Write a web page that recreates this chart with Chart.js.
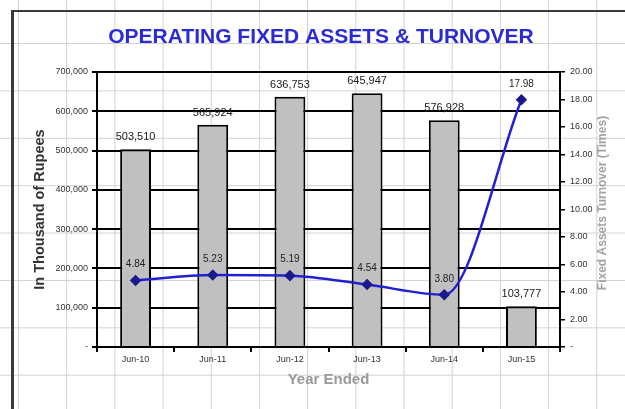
<!DOCTYPE html>
<html>
<head>
<meta charset="utf-8">
<script src="https://cdn.jsdelivr.net/npm/chart.js@4/dist/chart.umd.min.js"></script>
<style>
    html, body {
        margin: 0;
        padding: 0;
    }
    body {
        width: 625px;
        height: 409px;
        position: relative;
        overflow: hidden;
        background-color: #fff;
        /* spreadsheet cell lines behind the chart */
        background-image:
            linear-gradient(to right, #d2d2d2 1px, transparent 1px),
            linear-gradient(to bottom, #d2d2d2 1px, transparent 1px);
        background-size: 48.2px 47.4px;
        background-position: 18px 43px;
    }
    #frame {
        position: absolute;
        left: 11px;
        top: 10px;
        width: 700px;
        height: 500px;
        border-left: 3px solid #3a3a3a;
        border-top: 2px solid #3a3a3a;
    }
    #c {
        position: absolute;
        left: 0;
        top: 0;
    }
</style>
</head>
<body>
<div id="frame"></div>
<canvas id="c" width="625" height="409"></canvas>
<script>
// Chart data
const categories = ['Jun-10', 'Jun-11', 'Jun-12', 'Jun-13', 'Jun-14', 'Jun-15'];
const fixedAssets = [503510, 565924, 636753, 645947, 576928, 103777];
const turnover = [4.84, 5.23, 5.19, 4.54, 3.80, 17.98];

const chartTitle = 'OPERATING FIXED ASSETS & TURNOVER';
const leftAxisTitle = 'In Thousand of Rupees';
const rightAxisTitle = 'Fixed Assets Turnover (Times)';
const xAxisTitle = 'Year Ended';

const FONT = '"Liberation Sans", Arial, sans-serif';

// Value labels above bars and line points
const valueLabels = {
    id: 'valueLabels',
    afterDatasetsDraw(chart) {
        const ctx = chart.ctx;
        ctx.save();
        ctx.textAlign = 'center';
        ctx.textBaseline = 'middle';
        ctx.fillStyle = '#222';

        ctx.font = '11px ' + FONT;
        chart.getDatasetMeta(0).data.forEach((bar, i) => {
            ctx.fillText(fixedAssets[i].toLocaleString('en-US'), bar.x, bar.y - 12);
        });

        ctx.font = '10px ' + FONT;
        chart.getDatasetMeta(1).data.forEach((pt, i) => {
            ctx.fillText(turnover[i].toFixed(2), pt.x, pt.y - 16);
        });
        ctx.restore();
    }
};

// Main title and right axis title (reads bottom to top like the left one)
const extraTitles = {
    id: 'extraTitles',
    afterDraw(chart) {
        const ctx = chart.ctx;
        ctx.save();
        ctx.textAlign = 'center';
        ctx.textBaseline = 'middle';

        ctx.fillStyle = '#2b2bd4';
        ctx.font = 'bold 21px ' + FONT;
        ctx.fillText(chartTitle, 321, 37);

        ctx.translate(603, 203);
        ctx.rotate(-Math.PI / 2);
        ctx.fillStyle = '#a3a3a3';
        ctx.font = 'bold 12px ' + FONT;
        ctx.fillText(rightAxisTitle, 0, 0);
        ctx.restore();
    }
};

const ctx = document.getElementById('c');

new Chart(ctx, {
    data: {
        labels: categories,
        datasets: [{
            type: 'bar',
            label: 'Operating Fixed Assets',
            data: fixedAssets,
            yAxisID: 'y',
            backgroundColor: '#c0c0c0',
            borderColor: '#000',
            borderWidth: 2,
            barPercentage: 0.4,
            categoryPercentage: 1,
            order: 1
        }, {
            type: 'line',
            label: 'Turnover',
            data: turnover,
            yAxisID: 'y1',
            borderColor: '#2020d0',
            borderWidth: 2.5,
            cubicInterpolationMode: 'monotone',
            pointStyle: 'rectRot',
            pointRadius: 4,
            pointBackgroundColor: '#1a1a8c',
            pointBorderColor: '#1a1a8c',
            order: 0
        }]
    },
    options: {
        responsive: false,
        animation: false,
        devicePixelRatio: 1,
        layout: {
            padding: { top: 72, left: 0, right: 0, bottom: 0 }
        },
        plugins: {
            legend: { display: false },
            tooltip: { enabled: false }
        },
        scales: {
            x: {
                grid: {
                    display: true,
                    drawOnChartArea: false,
                    color: '#000',
                    lineWidth: 2,
                    tickLength: 5
                },
                border: { color: '#000', width: 2 },
                ticks: {
                    color: '#333',
                    font: { family: FONT, size: 9 },
                    padding: 2,
                    maxRotation: 0
                },
                title: {
                    display: true,
                    text: xAxisTitle,
                    color: '#9a9a9a',
                    font: { family: FONT, size: 15, weight: 'bold' },
                    padding: { top: 0, bottom: 20 }
                },
                afterFit(scale) {
                    scale.height = 62;
                }
            },
            y: {
                position: 'left',
                min: 0,
                max: 700000,
                grid: {
                    color: '#000',
                    lineWidth: 2,
                    tickLength: 5
                },
                border: { color: '#000', width: 2 },
                ticks: {
                    stepSize: 100000,
                    color: '#333',
                    font: { family: FONT, size: 9 },
                    padding: 4,
                    callback: function (value) {
                        return value === 0 ? '-' : value.toLocaleString('en-US');
                    }
                },
                title: {
                    display: true,
                    text: leftAxisTitle,
                    color: '#333',
                    font: { family: FONT, size: 14.5, weight: 'bold' },
                    padding: { top: 31, bottom: 0 }
                },
                afterFit(scale) {
                    scale.width = 97;
                }
            },
            y1: {
                position: 'right',
                min: 0,
                max: 20,
                grid: {
                    drawOnChartArea: false,
                    color: '#000',
                    lineWidth: 1.5,
                    tickLength: 5
                },
                border: { color: '#000', width: 2 },
                ticks: {
                    stepSize: 2,
                    color: '#333',
                    font: { family: FONT, size: 9 },
                    padding: 5,
                    callback: function (value) {
                        return value === 0 ? '-' : value.toFixed(2);
                    }
                },
                afterFit(scale) {
                    scale.width = 65;
                }
            }
        }
    },
    plugins: [valueLabels, extraTitles]
});
</script>
</body>
</html>
